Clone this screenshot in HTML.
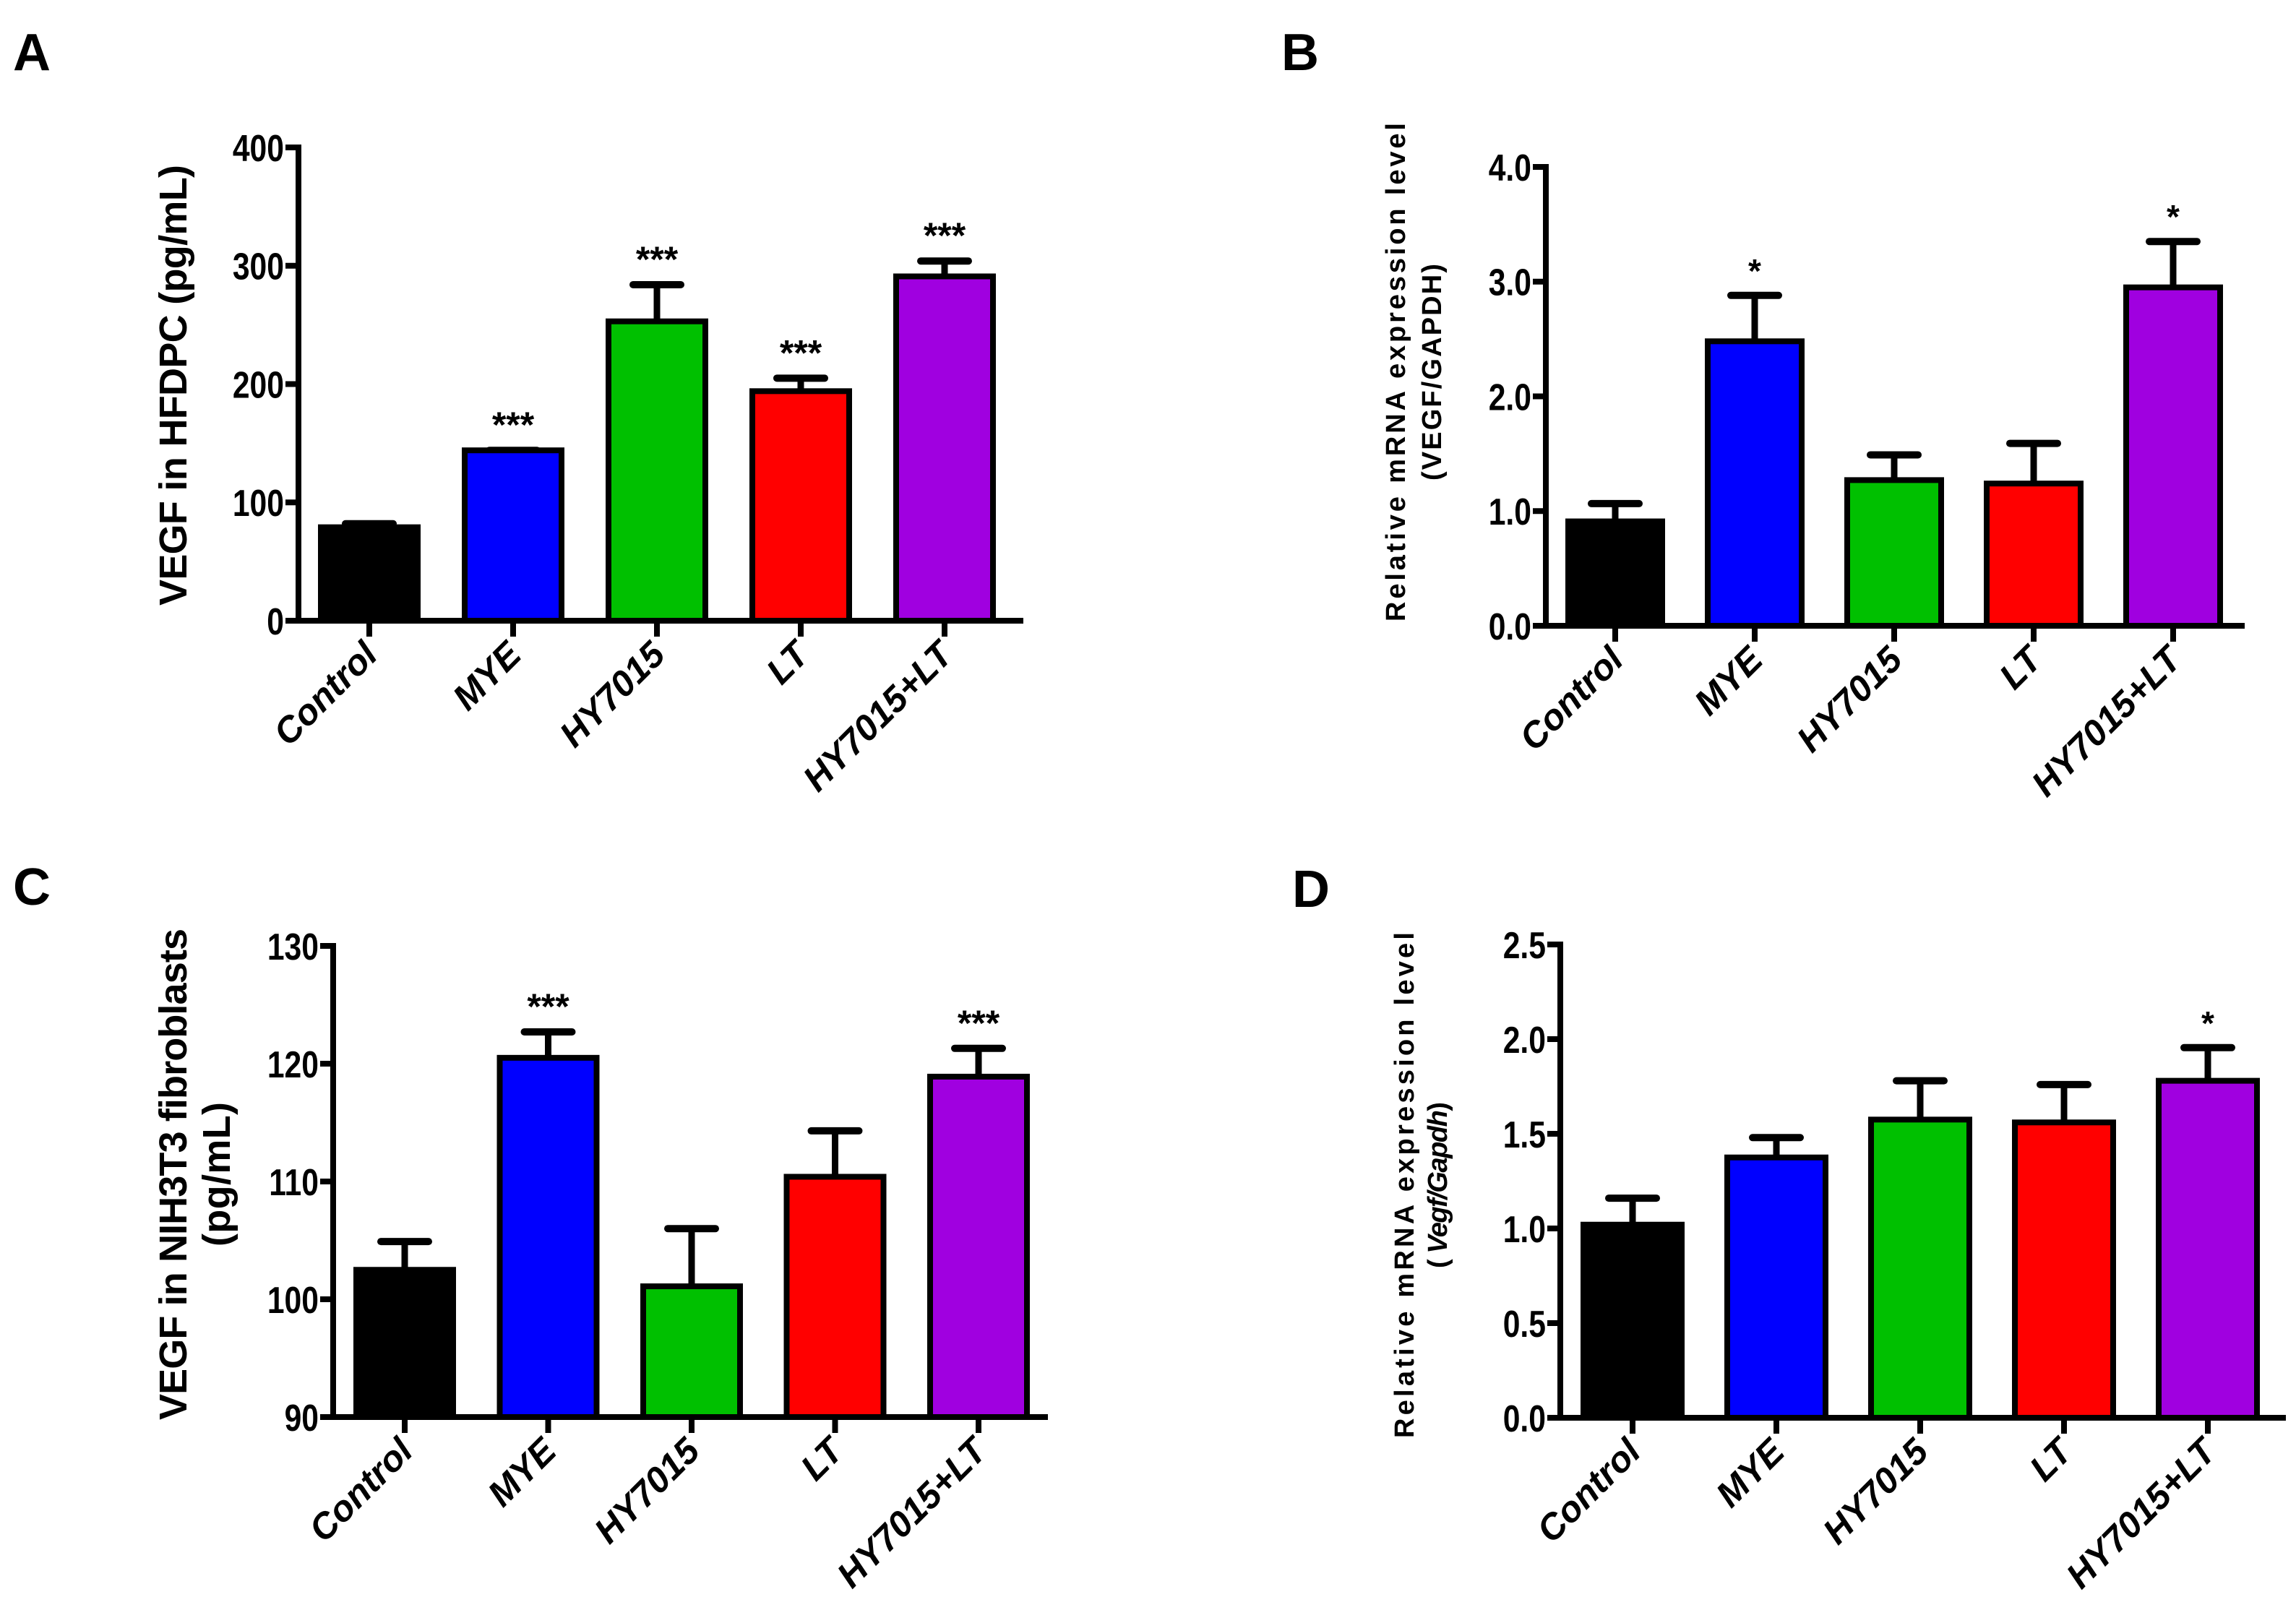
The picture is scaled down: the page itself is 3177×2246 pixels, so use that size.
<!DOCTYPE html>
<html><head><meta charset="utf-8"><style>
html,body{margin:0;padding:0;background:#fff;}
svg{display:block;}
text{font-family:"Liberation Sans",Arial,sans-serif;font-weight:bold;fill:#000;}
</style></head><body>
<svg id="fig" width="3177" height="2246" viewBox="0 0 3177 2246" xmlns="http://www.w3.org/2000/svg">
<text x="18" y="97" font-size="72">A</text>
<text x="1773" y="97" font-size="72">B</text>
<text x="18" y="1252" font-size="72">C</text>
<text x="1788" y="1255" font-size="72">D</text>
</svg>
<script>
const categories = ["Control","MYE","HY7015","LT","HY7015+LT"];
const colors = ["#000000","#0000ff","#00c000","#ff0000","#a000e0"];
const valuesA = [79,144,253,194,291];
const errorsA = [82,144,284,205,304];
const starsA = ["","***","***","***","***"];
const ticksA = [0,100,200,300,400];
const tickLabelsA = ["0","100","200","300","400"];
const valuesB = [0.91,2.48,1.27,1.24,2.95];
const errorsB = [1.065,2.88,1.49,1.59,3.35];
const starsB = ["","*","","","*"];
const ticksB = [0,1,2,3,4];
const tickLabelsB = ["0.0","1.0","2.0","3.0","4.0"];
const valuesC = [102.5,120.5,101.1,110.4,118.9];
const errorsC = [104.9,122.7,106.0,114.3,121.3];
const starsC = ["","***","","","***"];
const ticksC = [90,100,110,120,130];
const tickLabelsC = ["90","100","110","120","130"];
const valuesD = [1.02,1.375,1.575,1.56,1.78];
const errorsD = [1.16,1.48,1.78,1.76,1.955];
const starsD = ["","","","","*"];
const ticksD = [0,0.5,1,1.5,2,2.5];
const tickLabelsD = ["0.0","0.5","1.0","1.5","2.0","2.5"];

const NS="http://www.w3.org/2000/svg";
const svg=document.getElementById('fig');
function mk(tag,attrs,parent){const e=document.createElementNS(NS,tag);for(const k in attrs)e.setAttribute(k,attrs[k]);(parent||svg).appendChild(e);return e;}

function panel(id,L,vals,errs,stars,ticks,tlabels,title){
  const g=mk('g',{});
  
  
  const ymin=ticks[0],ymax=ticks[ticks.length-1];
  const yS=v=>L.y0+(v-ymin)/(ymax-ymin)*(L.y1-L.y0);
  const xS=i=>L.x0+i*L.step;
  vals.forEach((v,i)=>{
    const cx=xS(i),top=yS(v),et=yS(errs[i]);
    const el=mk('line',{x1:cx,x2:cx,y1:top,y2:et,stroke:'#000','stroke-width':9},g);
    
    
    const cap=mk('line',{x1:cx-33,x2:cx+33,y1:et,y2:et,stroke:'#000','stroke-width':10,'stroke-linecap':'round'},g);
    
    
    const r=mk('rect',{x:cx-L.bw/2,y:top,width:L.bw,height:L.y0-top,fill:colors[i],stroke:'#000','stroke-width':8},g);
    
    
    if(stars[i]){
      const s=mk('text',{x:cx,y:et-18,'font-size':L.sf,'text-anchor':'middle','font-weight':'normal'},g);
      s.textContent=stars[i];
      
      
    }
    const tk=mk('line',{x1:cx,x2:cx,y1:L.y0,y2:L.y0+22,stroke:'#000','stroke-width':8},g);
    
    
    const lx=cx+14,ly=L.y0+50;
    const t=mk('text',{x:lx,y:ly,'font-size':50,'font-style':'italic','text-anchor':'end',transform:`rotate(-45 ${lx} ${ly})`},g);
    t.textContent=categories[i];
    
    
  });
  const ya=mk('line',{x1:L.ax,x2:L.ax,y1:L.y1-4,y2:L.y0+4,stroke:'#000','stroke-width':8},g);
  
  
  const xa=mk('line',{x1:L.ax-16,x2:L.xe,y1:L.y0,y2:L.y0,stroke:'#000','stroke-width':8},g);
  
  
  ticks.forEach((tv,j)=>{
    const y=yS(tv);
    const tl=mk('line',{x1:L.ax-18,x2:L.ax,y1:y,y2:y,stroke:'#000','stroke-width':8},g);
    
    
    const tt=mk('text',{x:L.ax-20,y:y+19,'font-size':52,'text-anchor':'end',transform:`translate(${L.ax-20} 0) scale(0.82 1) translate(${-(L.ax-20)} 0)`},g);
    tt.textContent=tlabels[j];
    
    
  });
  title.forEach((ln,k)=>{
    const t=mk('text',{x:ln.x,y:ln.y,'font-size':ln.fs,'text-anchor':'middle',transform:`rotate(-90 ${ln.x} ${ln.y})`},g);
    if(ln.len) t.setAttribute('textLength',ln.len);
    if(ln.html) t.innerHTML=ln.html; else t.textContent=ln.t;
    
    
  });
}
panel('a',{x0:511,step:199,bw:134,y0:859,y1:204,ax:413,xe:1416,sf:50},valuesA,errorsA,starsA,ticksA,tickLabelsA,
  [{x:258,y:533,fs:54,len:610,t:'VEGF in HFDPC (pg/mL)'}]);
panel('b',{x0:2235,step:193,bw:130,y0:866,y1:231,ax:2139,xe:3106,sf:46},valuesB,errorsB,starsB,ticksB,tickLabelsB,
  [{x:1944,y:515,fs:38,len:690,t:'Relative  mRNA expression level'},{x:1994,y:515,fs:38,len:300,t:'(VEGF/GAPDH)'}]);
panel('c',{x0:560,step:198.5,bw:134,y0:1961,y1:1309,ax:461,xe:1450,sf:50},valuesC,errorsC,starsC,ticksC,tickLabelsC,
  [{x:258,y:1625,fs:54,len:680,t:'VEGF in NIH3T3 fibroblasts'},{x:318,y:1625,fs:54,len:200,t:'(pg/mL)'}]);
panel('d',{x0:2259,step:199,bw:136,y0:1962,y1:1307,ax:2159,xe:3163,sf:46},valuesD,errorsD,starsD,ticksD,tickLabelsD,
  [{x:1956,y:1640,fs:38,len:700,t:'Relative  mRNA expression level'},{x:2002,y:1640,fs:38,len:230,html:'( <tspan font-style="italic">Vegf/Gapdh</tspan>)'}]);
</script>
</body></html>
